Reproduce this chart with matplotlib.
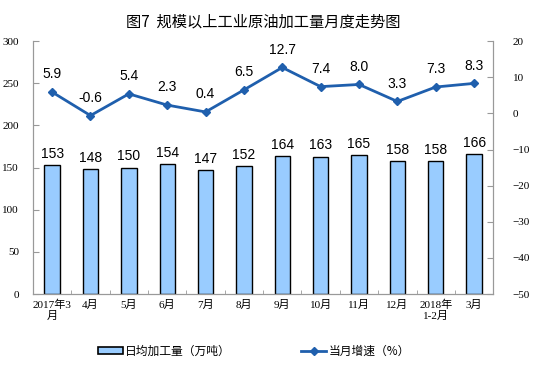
import matplotlib.pyplot as plt
import numpy as np
from matplotlib.patches import Patch
from matplotlib.lines import Line2D

plt.rcParams['font.family'] = ['Noto Sans CJK SC', 'DejaVu Sans']

months = ["2017年3\n月", "4月", "5月", "6月", "7月", "8月", "9月", "10月", "11月", "12月", "2018年\n1-2月", "3月"]
daily = [153, 148, 150, 154, 147, 152, 164, 163, 165, 158, 158, 166]
growth = [5.9, -0.6, 5.4, 2.3, 0.4, 6.5, 12.7, 7.4, 8.0, 3.3, 7.3, 8.3]

fig = plt.figure(figsize=(5.58, 3.84), dpi=100)
ax = fig.add_axes([0.059, 0.234, 0.825, 0.659])
x = np.arange(len(months))

ax.bar(x, daily, width=0.40, color='#99CCFF', edgecolor='black', linewidth=1.0, zorder=2)
for xi, v in zip(x, daily):
    ax.text(xi, v + 5, str(v), ha='center', va='bottom', fontsize=10, family='Liberation Sans')

ax.set_ylim(0, 300)
ax.set_yticks(range(0, 301, 50))
ax.set_xlim(-0.5, len(months) - 0.5)
ax.set_xticks(x)
ax.set_xticklabels(months, fontsize=8, family=['Liberation Serif', 'Noto Sans CJK SC'], linespacing=1.1)
ax.set_xticks(np.arange(-0.5, len(months), 1), minor=True)
ax.tick_params(axis='x', which='major', length=0, pad=4)
ax.tick_params(axis='x', which='minor', length=3, color='#999999', direction='in')
ax.tick_params(axis='y', direction='in', length=4, color='#999999', labelsize=8, pad=10)
for lbl in ax.get_yticklabels():
    lbl.set_family('Liberation Serif')

ax2 = ax.twinx()
ax2.plot(x, growth, color='#1F5FAD', linewidth=2, marker='D', markersize=4, zorder=3)
for xi, v in zip(x, growth):
    ax2.text(xi, v + 3, f"{v:.1f}", ha='center', va='bottom', fontsize=10, family='Liberation Sans')
ax2.set_ylim(-50, 20)
ax2.set_yticks(range(-50, 21, 10))
ax2.tick_params(axis='y', direction='in', length=4, color='#999999', labelsize=8, pad=14)
for lbl in ax2.get_yticklabels():
    lbl.set_family('Liberation Serif')

for a in (ax, ax2):
    a.spines['top'].set_visible(False)
    for s in ('left', 'right', 'bottom'):
        a.spines[s].set_color('#999999')

fig.text(0.472, 0.92, "图7  规模以上工业原油加工量月度走势图", ha='center', va='bottom', fontsize=11)

handles = [Patch(facecolor='#99CCFF', edgecolor='black', linewidth=1.2),
           Line2D([], [], color='#1F5FAD', linewidth=2, marker='D', markersize=4)]
fig.legend(handles, ["日均加工量（万吨）", "当月增速（%）"], loc='center', bbox_to_anchor=(0.455, 0.085),
           ncol=2, frameon=False, fontsize=8.5, columnspacing=6, handlelength=2.1, handleheight=0.55,
           handletextpad=0.2)

fig.savefig('out.png', dpi=100)
